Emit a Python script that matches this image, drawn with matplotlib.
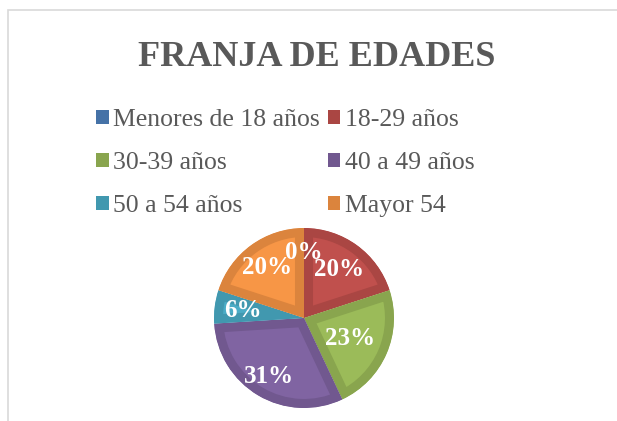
import numpy as np
import matplotlib
matplotlib.use("Agg")
import matplotlib.pyplot as plt
from matplotlib.patches import Rectangle

# Data
categorias = ['Menores de 18 años', '18-29 años', '30-39 años',
              '40 a 49 años', '50 a 54 años', 'Mayor 54']
porcentajes = [0, 20, 23, 31, 6, 20]

# Excel style colours: light fill and darker bevel band
claros = ['#4F81BD', '#C0504D', '#9BBB59', '#8064A2', '#4BACC6', '#F79646']
oscuros = ['#4572A7', '#AA4643', '#89A54E', '#71588F', '#4198AF', '#DB843D']

W, H = 617, 421
fig = plt.figure(figsize=(W / 100, H / 100), dpi=100)
fig.patch.set_facecolor('white')

# chart area border (light gray, cut by image edges)
fig.add_artist(Rectangle((8 / W, -0.05), 1.2, 1 - 10 / H + 0.05,
                         transform=fig.transFigure, fill=False,
                         edgecolor='#D9D9D9', linewidth=1.2))

# Title
fig.text(317 / W, 1 - 66 / H, 'FRANJA DE EDADES', ha='center', va='baseline',
         fontsize=26, fontweight='bold', color='#595959',
         family='Liberation Serif')

# Pie
cx, cy, r = 304, 318, 90
ax = fig.add_axes([(cx - r) / W, (H - cy - r) / H, 2 * r / W, 2 * r / H])
wedges, textos, autotextos = ax.pie(
    porcentajes, colors=claros, startangle=90, counterclock=False,
    autopct='%1.0f%%', pctdistance=0.68,
    textprops=dict(color='white', fontsize=18, fontweight='bold',
                   family='Liberation Serif'))
# darker band inside each slice: stroke clipped to the slice itself
for w, c in zip(wedges, oscuros):
    w.set_edgecolor(c)
    w.set_linewidth(13)
    w.set_joinstyle('miter')
    w.set_clip_path(w)
    w.set_clip_on(True)

# label placement similar to Excel "best fit"
distancias = [0.73, 0.67, 0.56, 0.76, 0.68, 0.69]
for w, t, d in zip(wedges, autotextos, distancias):
    ang = np.deg2rad((w.theta1 + w.theta2) / 2)
    t.set_position((d * np.cos(ang), d * np.sin(ang)))
ax.set_xlim(-1, 1)
ax.set_ylim(-1, 1)
ax.set_aspect('equal')

# Legend (row-major order, 2 columns)
orden = [0, 2, 4, 1, 3, 5]
handles = [Rectangle((0, 0), 1, 1, facecolor=oscuros[i], edgecolor='none')
           for i in orden]
labels = [categorias[i] for i in orden]
leg = fig.legend(handles, labels, ncol=2, loc='upper left',
                 bbox_to_anchor=(96 / W, 1 - 109 / H), frameon=False,
                 borderpad=0, borderaxespad=0, handlelength=0.49,
                 handleheight=0.49, handletextpad=0.18, columnspacing=0.3,
                 labelspacing=0.82,
                 prop=dict(family='Liberation Serif', size=18.5))
for t in leg.get_texts():
    t.set_color('#595959')

fig.savefig('out.png', dpi=100)
